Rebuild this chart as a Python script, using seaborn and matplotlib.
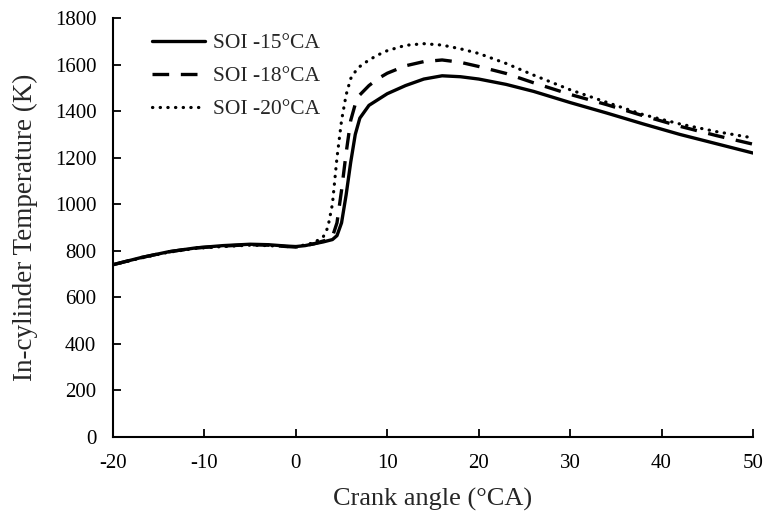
import numpy as np
import seaborn as sns
import pandas as pd
import matplotlib.pyplot as plt

crank = [-20, -17, -14, -11, -8, -5, -3, -1, 0, 1, 2, 3, 3.5, 4, 4.5, 5, 5.5, 6, 6.5, 7,
         8, 9, 10, 12, 14, 16, 18, 20, 23, 26, 30, 34, 38, 42, 46, 50]
soi_15 = [740, 770, 795, 812, 822, 828, 826, 820, 818, 822, 830, 838, 843, 848, 865, 920, 1040, 1180, 1300, 1370,
          1425, 1450, 1475, 1510, 1538, 1552, 1548, 1538, 1515, 1485, 1437, 1392, 1345, 1300, 1260, 1220]
soi_18 = [740, 770, 795, 812, 820, 826, 824, 818, 816, 822, 830, 842, 848, 860, 920, 1060, 1220, 1360, 1430, 1470,
          1510, 1540, 1563, 1595, 1613, 1620, 1610, 1592, 1562, 1522, 1472, 1428, 1380, 1335, 1295, 1258]
soi_20 = [740, 768, 793, 810, 818, 824, 822, 818, 818, 825, 835, 860, 900, 1000, 1200, 1360, 1470, 1540, 1570, 1592,
          1620, 1642, 1660, 1683, 1690, 1684, 1668, 1648, 1605, 1555, 1492, 1438, 1385, 1345, 1312, 1285]
labels = ["SOI -15°CA", "SOI -18°CA", "SOI -20°CA"]

sns.set_style("ticks")
plt.rcParams['font.family'] = ['Liberation Serif', 'DejaVu Serif']
plt.rcParams['axes.unicode_minus'] = False

fig = plt.figure(figsize=(7.66, 5.17), dpi=100)
ax = fig.add_axes([0.1475, 0.155, 0.8355, 0.81])

sns.lineplot(x=crank, y=soi_15, color="black", linewidth=2.4, linestyle="-", label=labels[0], ax=ax)
sns.lineplot(x=crank, y=soi_18, color="black", linewidth=2.4, dashes=(5, 3.5), label=labels[1], ax=ax)
sns.lineplot(x=crank, y=soi_20, color="black", linewidth=2.3, dashes=(0.1, 2.3),
             dash_capstyle="round", label=labels[2], ax=ax)

ax.set_xlim(-20, 50)
ax.set_ylim(0, 1800)
ax.set_xticks(np.arange(-20, 51, 10))
ax.set_yticks(np.arange(0, 1801, 200))
ax.tick_params(direction="in", length=6, width=1.3, labelsize=15, colors="black", pad=12)
for s in ["left", "bottom"]:
    ax.spines[s].set_linewidth(1.5)
    ax.spines[s].set_color("black")
sns.despine(ax=ax)

ax.set_xlabel("Crank angle (°CA)", fontsize=19, labelpad=11)
ax.set_ylabel("In-cylinder Temperature (K)", fontsize=19.5, labelpad=12)

ax.legend(loc="upper left", bbox_to_anchor=(0.03, 1.01), frameon=False, fontsize=15.5,
          handlelength=2.5, handletextpad=0.35, labelspacing=0.6)

fig.savefig("out.png", dpi=100)
